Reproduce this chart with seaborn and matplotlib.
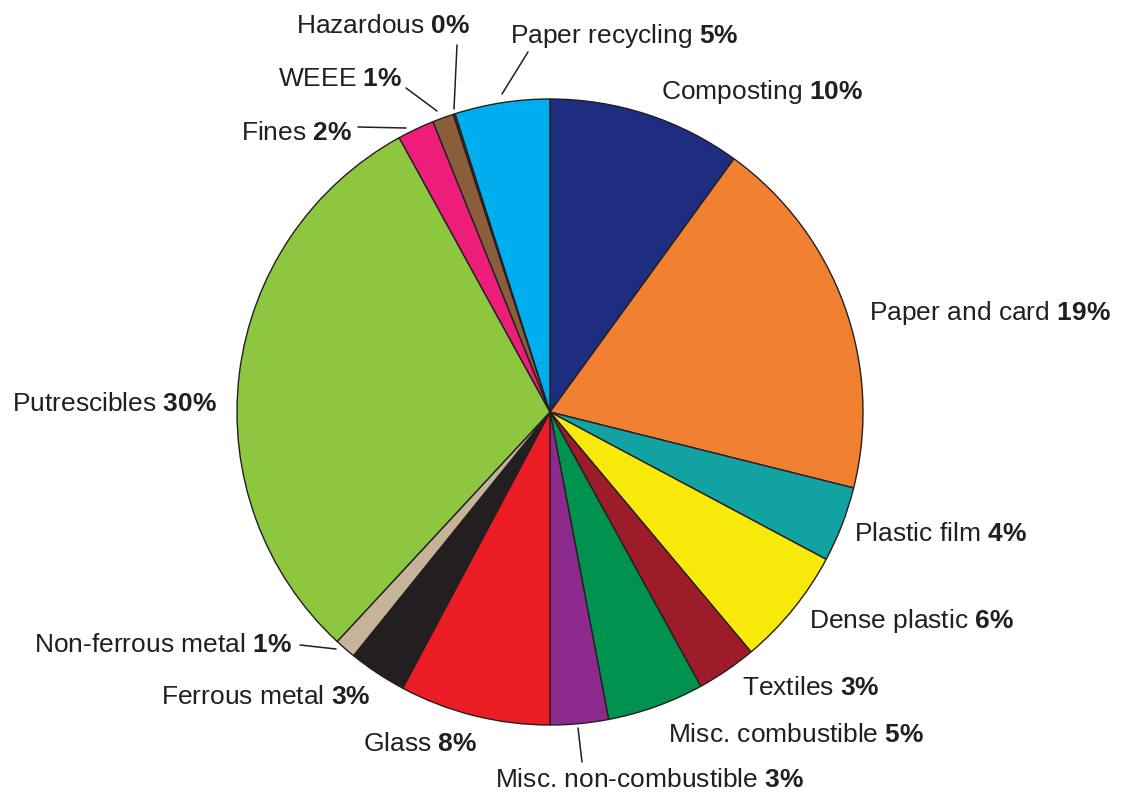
import matplotlib
matplotlib.use("Agg")
import matplotlib.pyplot as plt
import seaborn as sns

# Waste composition, in percent, clockwise from 12 o'clock
categories = [
    "Composting", "Paper and card", "Plastic film", "Dense plastic", "Textiles",
    "Misc. combustible", "Misc. non-combustible", "Glass", "Ferrous metal",
    "Non-ferrous metal", "Putrescibles", "Fines", "WEEE", "Hazardous",
    "Paper recycling",
]
shares = [10.0, 18.9, 3.9, 6.1, 3.1, 5.0, 3.0, 7.8, 3.0, 1.1, 30.1, 1.9, 1.1, 0.1, 4.9]
colors = [
    "#1E2D80", "#F28031", "#13A2A2", "#F7EA0B", "#9E1C2A",
    "#00924F", "#8D2A8E", "#EC1C24", "#231F20", "#C6B49A",
    "#8DC63F", "#EC1E7A", "#8A5D3B", "#5A3A1E", "#00AEEF",
]

# Label placement (left edge x, baseline y, in pixels from the top-left corner)
label_pos = [
    (661, 99), (869, 320), (854, 541), (809, 628), (742, 695),
    (668, 742), (495, 787), (363, 751), (161, 704),
    (34, 652), (12, 411), (241, 140), (278, 86), (296, 33),
    (510, 43),
]
# Leader lines for the small slices: (label end, slice end)
leaders = {
    "Paper recycling": ((528, 52), (502, 94)),
    "Hazardous": ((457, 45), (454, 109)),
    "WEEE": ((406, 88), (437, 111)),
    "Fines": ((358, 127), (406, 128)),
    "Non-ferrous metal": ((300, 645), (336, 649)),
    "Misc. non-combustible": ((578, 728), (582, 762)),
}

W, H = 1125, 792
sns.set_theme(style="white")
plt.rcParams["font.family"] = ["Liberation Sans", "DejaVu Sans"]
plt.rcParams["mathtext.fontset"] = "custom"
plt.rcParams["mathtext.rm"] = "Liberation Sans"
plt.rcParams["mathtext.bf"] = "Liberation Sans:bold"

fig = plt.figure(figsize=(W / 100, H / 100), dpi=100)
ax = fig.add_axes([0, 0, 1, 1])
ink = "#231F20"

ax.pie(
    shares,
    colors=colors,
    startangle=90,
    counterclock=False,
    radius=313,
    center=(550, H - 412),
    wedgeprops=dict(edgecolor=ink, linewidth=1.0),
)

for name, v, (x, y) in zip(categories, shares, label_pos):
    ax.text(x, H - y, name + r" $\mathbf{" + f"{v:.0f}" + r"\%}$",
            ha="left", va="baseline", fontsize=19, color=ink)

for name, ((x0, y0), (x1, y1)) in leaders.items():
    ax.plot([x0, x1], [H - y0, H - y1], color=ink, linewidth=1.1)

ax.set_xlim(0, W)
ax.set_ylim(0, H)
ax.set_aspect("equal")
ax.axis("off")
fig.savefig("out.png", dpi=100, facecolor="white")
